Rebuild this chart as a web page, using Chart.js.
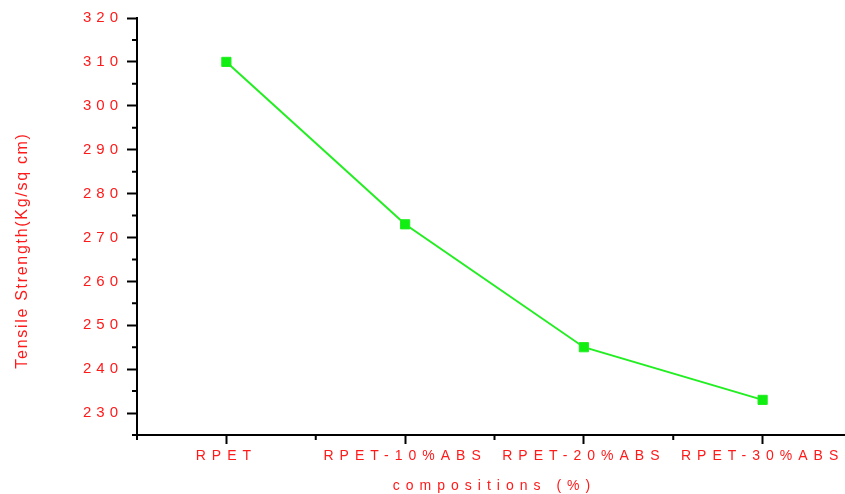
<!DOCTYPE html>
<html>
<head>
<meta charset="utf-8">
<script src="https://cdn.jsdelivr.net/npm/chart.js@4"></script>
<style>
  html, body { margin: 0; padding: 0; background: #fff; }
  #wrap { width: 845px; height: 494px; }
</style>
</head>
<body>
<div id="wrap"><canvas id="myChart"></canvas></div>
<script>
const categories = ['RPET', 'RPET-10%ABS', 'RPET-20%ABS', 'RPET-30%ABS'];
const tensileStrength = [310, 273, 245, 233];
const yTickValues = [230, 240, 250, 260, 270, 280, 290, 300, 310, 320];
const yMinorValues = [225, 235, 245, 255, 265, 275, 285, 295, 305, 315];

const red = '#ff1a1a';
const ctx = document.getElementById('myChart');

// canvas letter spacing per scale part (Chart.js has no option for it)
function spaced(scale, method, spacing, dy = 0) {
  const orig = scale[method];
  if (orig._spaced) return;
  const fn = function (...args) {
    const c = this.ctx;
    c.save();
    c.letterSpacing = spacing;
    c.translate(0, dy);
    orig.apply(this, args);
    c.restore();
  };
  fn._spaced = true;
  scale[method] = fn;
}

const axisExtras = {
  id: 'axisExtras',
  afterLayout(chart) {
    // x axis runs a little past the right edge of the canvas in the original
    const x = chart.scales.x;
    x.right = 852;
    x.width = x.right - x.left;
    x.configure();
    chart.chartArea.right = x.right;
    chart.chartArea.width = x.right - chart.chartArea.left;
  },
  beforeDraw(chart) {
    const { x, y } = chart.scales;
    spaced(x, 'drawLabels', '6px');
    spaced(x, 'drawTitle', '6px');
    spaced(y, 'drawLabels', '5px');
    spaced(y, 'drawTitle', '1.7px', 24);
  },
  afterDraw(chart) {
    const { ctx, scales: { x, y }, chartArea } = chart;
    ctx.save();
    ctx.strokeStyle = '#000';
    ctx.lineWidth = 2;
    ctx.beginPath();
    // minor ticks on y
    for (const v of yMinorValues) {
      const py = y.getPixelForValue(v);
      ctx.moveTo(chartArea.left - 5, py);
      ctx.lineTo(chartArea.left, py);
    }
    // minor ticks between categories
    for (let i = 0; i <= categories.length; i++) {
      const px = x.getPixelForValue(i - 0.5);
      ctx.moveTo(px, chartArea.bottom);
      ctx.lineTo(px, chartArea.bottom + 5);
    }
    ctx.stroke();
    ctx.restore();
  }
};

new Chart(ctx, {
  type: 'line',
  data: {
    labels: categories,
    datasets: [
      {
        data: tensileStrength,
        borderColor: '#22ee22',
        backgroundColor: '#11ee11',
        borderWidth: 2,
        pointStyle: 'rect',
        pointRadius: 6.5,
        pointBorderWidth: 1,
        tension: 0,
      },
    ],
  },
  options: {
    responsive: true,
    maintainAspectRatio: false,
    animation: false,
    layout: { autoPadding: false, padding: { left: 0, top: 18, right: 0, bottom: 0 } },
    plugins: {
      legend: { display: false },
      tooltip: { enabled: false },
    },
    scales: {
      x: {
        type: 'category',
        offset: true,
        grid: {
          drawOnChartArea: false,
          tickLength: 9,
          tickColor: '#000',
          tickWidth: 2,
        },
        border: { color: '#000', width: 2 },
        ticks: {
          color: red,
          font: { family: 'Liberation Sans', size: 14 },
          padding: 4,
          maxRotation: 0,
          autoSkip: false,
        },
        title: {
          display: true,
          text: 'compositions (%)',
          color: red,
          font: { family: 'Liberation Sans', size: 14, lineHeight: 1 },
          padding: { top: 0, bottom: 1 },
        },
        afterFit(s) {
          s.height = 59;
          s.paddingLeft = 0;
          s.paddingRight = 0;
        },
      },
      y: {
        min: 225,
        max: 320,
        afterBuildTicks(axis) {
          axis.ticks = yTickValues.map(v => ({ value: v }));
        },
        grid: {
          drawOnChartArea: false,
          tickLength: 10,
          tickColor: '#000',
          tickWidth: 2,
        },
        border: { color: '#000', width: 2 },
        ticks: {
          color: red,
          font: { family: 'Liberation Sans', size: 15 },
          padding: 4,
        },
        title: {
          display: true,
          text: 'Tensile Strength(Kg/sq cm)',
          color: red,
          font: { family: 'Liberation Sans', size: 16 },
          padding: { top: 13, bottom: 0 },
        },
        afterFit(s) {
          s.width = 137;
          s.paddingTop = 0;
          s.paddingBottom = 0;
        },
      },
    },
  },
  plugins: [axisExtras],
});
</script>
</body>
</html>
